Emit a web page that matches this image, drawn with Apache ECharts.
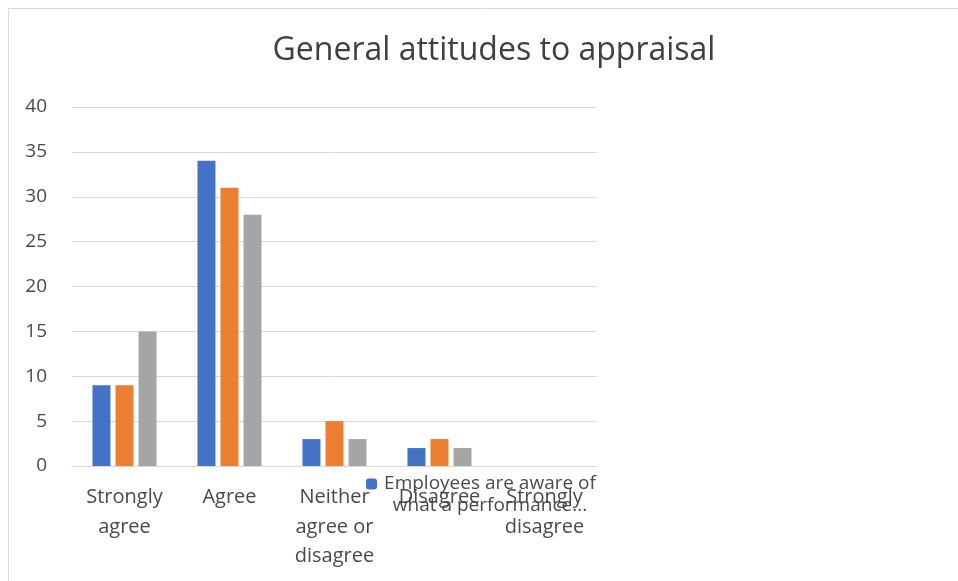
<!DOCTYPE html>
<html>
<head>
<meta charset="utf-8">
<script src="https://cdn.jsdelivr.net/npm/echarts@6/dist/echarts.min.js"></script>
<style>
  html, body { margin: 0; padding: 0; background: #fff; }
  #chart { width: 958px; height: 581px; }
</style>
</head>
<body>
<div id="chart"></div>
<script>
var categories = ['Strongly\nagree', 'Agree', 'Neither\nagree or\ndisagree', 'Disagree', 'Strongly\ndisagree'];
var seriesNames = ['Employees are aware of what a performance...', 'Series 2', 'Series 3'];
var aware = [9, 34, 3, 2, 0];
var second = [9, 31, 5, 3, 0];
var third = [15, 28, 3, 2, 0];
var colors = ['#4472c4', '#ed7d31', '#a5a5a5'];

var font = 'Open Sans';
var textColor = '#4a4a4a';

var option = {
    animation: false,
    title: {
        text: 'General attitudes to appraisal',
        left: 489,
        textAlign: 'center',
        top: 30,
        textStyle: { fontFamily: font, fontSize: 32, fontWeight: 'normal', color: '#404040' }
    },
    graphic: [{
        type: 'rect',
        shape: { x: 8.5, y: 8.5, width: 1000, height: 600 },
        style: { fill: 'none', stroke: '#d9d9d9', lineWidth: 1 },
        silent: true
    }],
    legend: {
        data: [seriesNames[0]],
        left: 361,
        top: 446,
        itemWidth: 11,
        itemHeight: 11,
        formatter: function () {
            return '{e| }\n{c|Employees are aware of}\n{c|what a performance...}';
        },
        textStyle: {
            fontFamily: font, fontSize: 19, color: textColor, lineHeight: 22,
            rich: {
                e: { lineHeight: 22, fontSize: 19 },
                c: { width: 216, align: 'center', fontFamily: font, fontSize: 19, color: textColor, lineHeight: 22 }
            }
        }
    },
    grid: { left: 72, right: 361, top: 107, bottom: 115, containLabel: false },
    xAxis: {
        type: 'category',
        data: categories,
        axisLine: { lineStyle: { color: '#d9d9d9', width: 1 } },
        axisTick: { show: false },
        axisLabel: { interval: 0, fontFamily: font, fontSize: 20, color: textColor, lineHeight: 29.5, margin: 17 }
    },
    yAxis: {
        type: 'value',
        min: 0,
        max: 40,
        interval: 5,
        axisLine: { show: false },
        axisTick: { show: false },
        splitLine: { lineStyle: { color: '#d9d9d9', width: 1 } },
        axisLabel: { fontFamily: font, fontSize: 19, color: textColor, margin: 25 }
    },
    series: [
        { name: seriesNames[0], type: 'bar', data: aware, itemStyle: { color: colors[0] }, barGap: '28%', barCategoryGap: '39%' },
        { name: seriesNames[1], type: 'bar', data: second, itemStyle: { color: colors[1] } },
        { name: seriesNames[2], type: 'bar', data: third, itemStyle: { color: colors[2] } }
    ]
};
var myChart = echarts.init(document.getElementById('chart'));
myChart.setOption(option);
</script>
</body>
</html>
